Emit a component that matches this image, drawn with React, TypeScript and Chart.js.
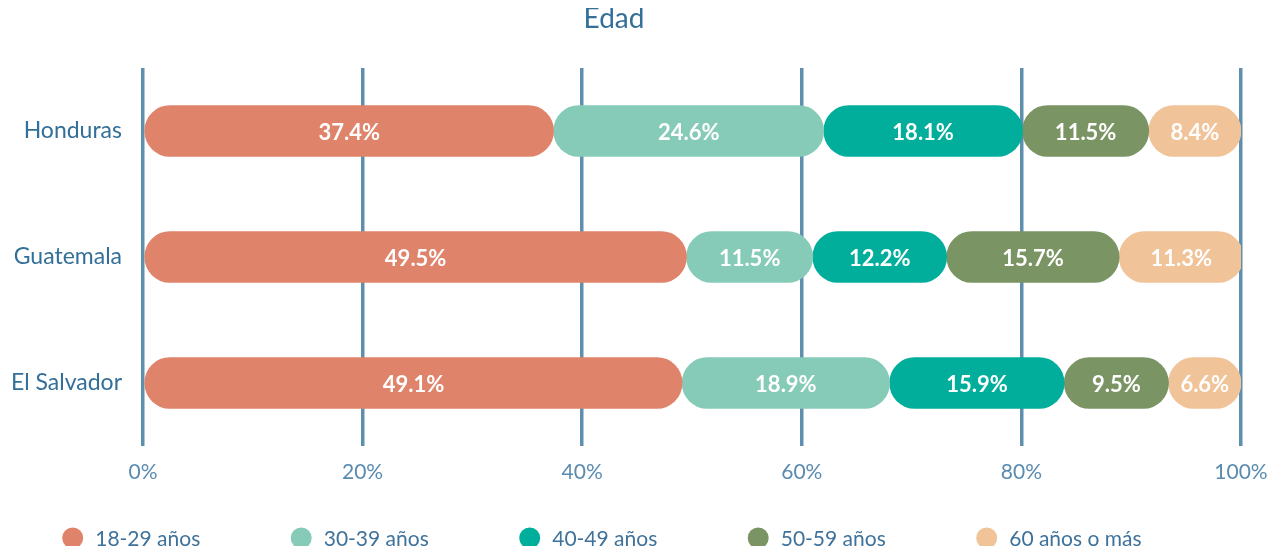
import React, { useEffect, useRef } from "react";
import { Chart, registerables } from "chart.js";

Chart.register(...registerables);

const categories = ["Honduras", "Guatemala", "El Salvador"];
const seriesLabels = ["18-29 años", "30-39 años", "40-49 años", "50-59 años", "60 años o más"];
const s1829 = [37.4, 49.5, 49.1];
const s3039 = [24.6, 11.5, 18.9];
const s4049 = [18.1, 12.2, 15.9];
const s5059 = [11.5, 15.7, 9.5];
const s60 = [8.4, 11.3, 6.6];
const xTicks = [0, 20, 40, 60, 80, 100];
const colors = ["#df836b", "#86cbb7", "#00ae9b", "#7a9563", "#f0c398"];
const titleText = "Edad";

const FONT = "Lato, 'Open Sans', sans-serif";

const labelsPlugin = {
  id: "segLabels",
  afterDatasetsDraw(chart: any) {
    const ctx = chart.ctx;
    ctx.save();
    ctx.fillStyle = "#ffffff";
    ctx.font = `bold 22px ${FONT}`;
    ctx.textAlign = "center";
    ctx.textBaseline = "middle";
    chart.data.datasets.forEach((ds: any, di: number) => {
      const meta = chart.getDatasetMeta(di);
      meta.data.forEach((el: any, i: number) => {
        const v = ds.values[i];
        const cx = (el.x + el.base) / 2;
        ctx.fillText(v.toFixed(1) + "%", cx, el.y + 2);
      });
    });
    ctx.restore();
  },
};

const decorPlugin = {
  id: "decor",
  afterDraw(chart: any) {
    const ctx = chart.ctx;
    ctx.save();
    // title
    ctx.fillStyle = "#336f98";
    ctx.font = `28px ${FONT}`;
    ctx.textAlign = "center";
    ctx.textBaseline = "alphabetic";
    ctx.fillText(titleText, 606, 20);
    // legend
    const startX = 64.7;
    const step = 228.5;
    const y = 530;
    ctx.font = `21px ${FONT}`;
    ctx.textAlign = "left";
    ctx.textBaseline = "middle";
    chart.data.datasets.forEach((ds: any, i: number) => {
      const cx = startX + i * step;
      ctx.beginPath();
      ctx.fillStyle = ds.backgroundColor;
      ctx.arc(cx, y, 10.5, 0, Math.PI * 2);
      ctx.fill();
      ctx.fillStyle = "#3f729a";
      ctx.fillText(ds.label, cx + 22.5, y + 1);
    });
    ctx.restore();
  },
};

export default function App() {
  const ref = useRef<HTMLCanvasElement>(null);
  useEffect(() => {
    if (!ref.current) return;
    const series = [s1829, s3039, s4049, s5059, s60];
    const starts = categories.map(() => 0);
    const datasets = series.map((d, i) => {
      const data = d.map((v, j) => {
        const a = starts[j];
        starts[j] = a + v;
        return [a, a + v];
      });
      return {
        label: seriesLabels[i],
        values: d,
        data,
        backgroundColor: colors[i],
        borderWidth: 0,
        borderRadius: { topLeft: 26, topRight: 26, bottomLeft: 26, bottomRight: 26 },
        borderSkipped: false,
        barThickness: 51,
        grouped: false,
      };
    });
    const chart = new Chart(ref.current, {
      type: "bar",
      data: { labels: categories, datasets: datasets as any },
      options: {
        indexAxis: "y",
        responsive: true,
        maintainAspectRatio: false,
        animation: false,
        layout: { padding: { top: 60, right: 32, bottom: 60, left: 0 } },
        plugins: {
          legend: { display: false },
          title: { display: false },
          tooltip: { enabled: false },
        },
        scales: {
          x: {
            min: 0,
            max: 100,
            afterBuildTicks(scale: any) {
              scale.ticks = xTicks.map((v) => ({ value: v }));
            },
            afterFit(scale: any) {
              scale.height = 40;
              scale.paddingLeft = 0;
              scale.paddingRight = 0;
            },
            grid: { color: "#5f8fae", lineWidth: 3.5, drawTicks: false },
            border: { display: false },
            ticks: {
              padding: 14,
              color: "#5a8bb0",
              font: { family: FONT, size: 21 },
              callback: (v: any) => v + "%",
            },
          },
          y: {
            afterFit(scale: any) {
              scale.width = 135;
            },
            grid: { display: false, drawTicks: false },
            border: { display: false },
            ticks: {
              padding: 21,
              color: "#336f98",
              font: { family: FONT, size: 23 },
            },
          },
        },
      },
      plugins: [labelsPlugin, decorPlugin],
    });
    return () => chart.destroy();
  }, []);
  return (
    <div style={{ width: 1265, height: 538, position: "relative" }}>
      <canvas ref={ref} />
    </div>
  );
}
